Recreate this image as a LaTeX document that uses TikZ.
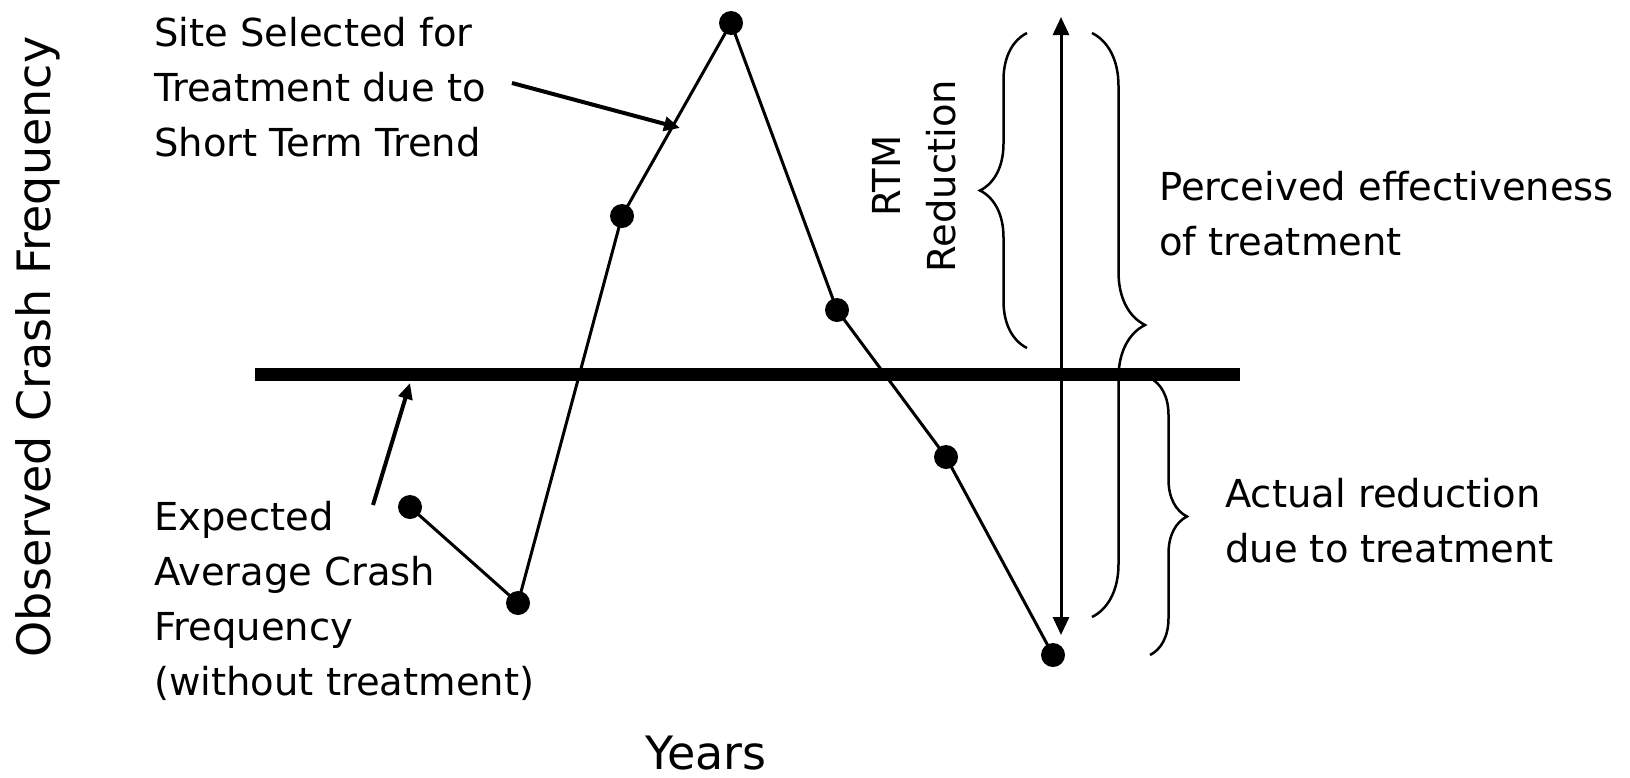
\documentclass[tikz,border=0pt]{standalone}
\usepackage{fontspec}
\setmainfont{DejaVu Sans}
\usetikzlibrary{arrows.meta,decorations.pathreplacing}
\begin{document}
\begin{tikzpicture}[x=1pt,y=-1pt,
  dot/.style={circle,fill=black,inner sep=0pt,minimum size=24pt},
  series/.style={line width=3pt},
  pointer/.style={line width=4pt,-{Triangle[length=16pt,width=14pt]}},
  lbl/.style={inner sep=0pt,align=left,font=\fontsize{38.5}{55}\selectfont},
  axislbl/.style={inner sep=0pt,font=\fontsize{46}{55}\selectfont},
  bracestyle/.style={line width=2.5pt,decorate},
]
\useasboundingbox (0,0) rectangle (1630,777);
% data points
\node[dot] (p1) at (410,507) {};
\node[dot] (p2) at (518,603) {};
\node[dot] (p3) at (622,216) {};
\node[dot] (p4) at (731,23) {};
\node[dot] (p5) at (837,310) {};
\node[dot] (p6) at (946,457) {};
\node[dot] (p7) at (1053,655) {};
\draw[series] (p1.center) -- (p2.center) -- (p3.center) -- (p4.center) -- (p5.center) -- (p6.center) -- (p7.center);
% expected average line
\coordinate (l1) at (255,374);
\coordinate (l2) at (1240,374);
\draw[line width=13pt] (l1) -- (l2);
% double arrow
\coordinate (a1) at (1061,17);
\coordinate (a2) at (1061,635);
\draw[line width=3pt,{Triangle[length=18pt,width=16pt]}-{Triangle[length=18pt,width=16pt]}] (a1) -- (a2);
% braces
\coordinate (b1s) at (1027,348);
\coordinate (b1e) at (1027,33);
\draw[bracestyle,decoration={brace,amplitude=47pt}] (b1s) -- (b1e);
\coordinate (b2s) at (1092,33);
\coordinate (b2e) at (1092,617);
\draw[bracestyle,decoration={brace,amplitude=53pt}] (b2s) -- (b2e);
\coordinate (b3s) at (1150,378);
\coordinate (b3e) at (1150,655);
\draw[bracestyle,decoration={brace,amplitude=37pt}] (b3s) -- (b3e);
% labels
\node[axislbl,rotate=90] (ylab) at (38,347) {Observed Crash Frequency};
\node[axislbl,anchor=base,text depth=0pt] (xlab) at (706,769) {Years};
\node[lbl,anchor=west] (site) at (154,87) {Site Selected for\\Treatment due to\\Short Term Trend};
\node[lbl,anchor=west] (exp) at (154,601) {Expected\\Average Crash\\Frequency\\(without treatment)};
\node[lbl,anchor=west] (perc) at (1159,214) {Perceived effectiveness\\of treatment};
\node[lbl,anchor=west] (act) at (1225,521) {Actual reduction\\due to treatment};
\node[lbl,rotate=90,align=center] (rtm) at (914,176) {RTM\\Reduction};
% pointers
\coordinate (s1) at (512,83);
\coordinate (s2) at (680,128);
\draw[pointer] (s1) -- (s2);
\coordinate (e1) at (373,505);
\coordinate (e2) at (410,383);
\draw[pointer] (e1) -- (e2);
\end{tikzpicture}
\end{document}
